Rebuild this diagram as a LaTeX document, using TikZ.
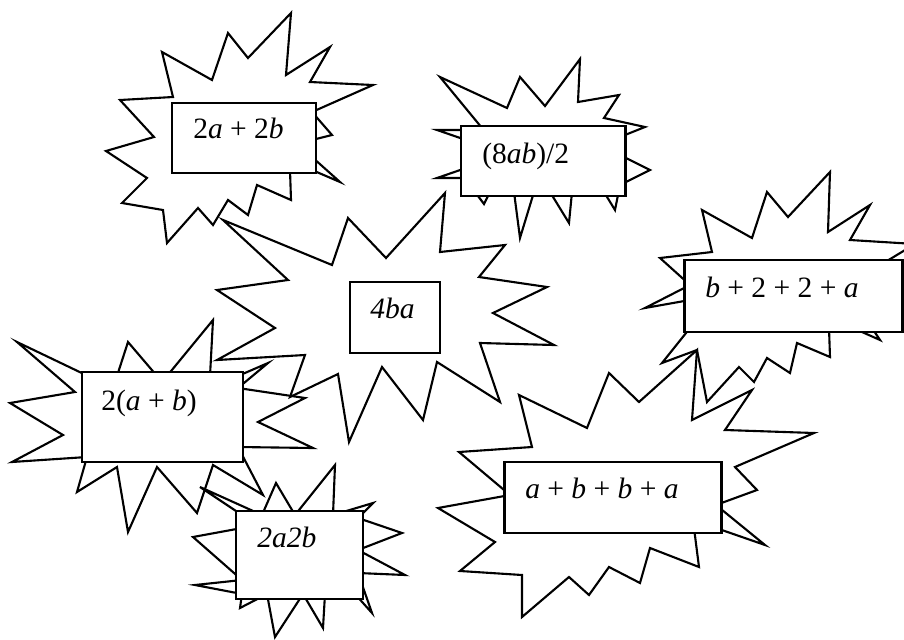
\documentclass[tikz,border=0pt]{standalone}
\usepackage{fontspec}
\setmainfont{Liberation Serif}

\tikzset{
  burst/.style={line width=1.5pt, line join=miter},
  exprbox/.style={draw, line width=2.1pt, fill=white, inner sep=0pt},
  exprtext/.style={inner sep=0pt, anchor=base west, font=\fontsize{21}{25}\selectfont},
}

\begin{document}
\begin{tikzpicture}[x=0.025cm, y=-0.025cm]
  \useasboundingbox (0,0) rectangle (904,640);

  % Burst behind 4ba
  \draw[burst] (223,220) -- (332,265) -- (348,218) -- (386,258) -- (445,193) -- (440,252)
    -- (505,245) -- (479,277) -- (547,287) -- (493,313) -- (554,345) -- (480,343)
    -- (500,402) -- (437,362) -- (423,420) -- (382,367) -- (349,442) -- (338,374)
    -- (290,397) -- (305,355) -- (217,360) -- (275,328) -- (217,290) -- (288,280) -- cycle;

  % Burst behind 2a + 2b
  \draw[burst] (120,100) -- (173,97) -- (162,52) -- (212,80) -- (228,33) -- (248,58)
    -- (291,13) -- (286,75) -- (330,47) -- (310,82) -- (373,85) -- (312,112)
    -- (332,135) -- (312,140) -- (312,157) -- (340,182) -- (312,170) -- (290,170)
    -- (291,200) -- (257,185) -- (248,215) -- (228,200) -- (213,225) -- (198,208)
    -- (167,243) -- (163,210) -- (122,203) -- (147,178) -- (106,151) -- (154,137) -- cycle;

  % Burst behind (8ab)/2
  \draw[burst] (437,130) -- (466,130) -- (482,128) -- (440,77) -- (507,108) -- (520,77)
    -- (545,106) -- (580,59) -- (578,102) -- (619,95) -- (604,118) -- (645,127)
    -- (620,137) -- (620,155) -- (650,170) -- (620,185) -- (615,210) -- (604,192)
    -- (572,192) -- (569,223) -- (550,192) -- (534,192) -- (520,238) -- (514,192)
    -- (490,192) -- (484,204) -- (475,192) -- (466,178) -- (437,178) -- (466,168)
    -- (466,140) -- cycle;

  % Burst behind b + 2 + 2 + a
  \draw[burst] (712,252) -- (702,210) -- (752,238) -- (767,192) -- (788,217) -- (830,172)
    -- (828,232) -- (870,205) -- (850,240) -- (915,244) -- (882,264) -- (898,270)
    -- (898,328) -- (872,328) -- (880,340) -- (853,328) -- (829,328) -- (830,357)
    -- (797,343) -- (790,373) -- (767,358) -- (754,382) -- (739,367) -- (707,402)
    -- (697,350) -- (662,363) -- (690,328) -- (690,300) -- (645,308) -- (690,285)
    -- (660,258) -- cycle;

  % Burst behind a + b + b + a
  \draw[burst] (519,395) -- (587,428) -- (609,373) -- (639,402) -- (697,350) -- (692,420)
    -- (752,390) -- (725,430) -- (814,433) -- (735,467) -- (757,490) -- (716,505)
    -- (765,545) -- (716,528) -- (694,528) -- (699,567) -- (650,548) -- (640,583)
    -- (609,567) -- (589,595) -- (569,577) -- (522,617) -- (522,575) -- (460,571)
    -- (495,542) -- (438,508) -- (510,495) -- (459,452) -- (532,447) -- cycle;

  % Burst behind 2(a + b)
  \draw[burst] (17,342) -- (88,376) -- (117,376) -- (128,342) -- (157,376) -- (167,376)
    -- (213,320) -- (210,376) -- (238,376) -- (268,363) -- (238,388) -- (305,398)
    -- (258,422) -- (313,448) -- (238,447) -- (263,495) -- (213,465) -- (197,513)
    -- (157,467) -- (128,532) -- (117,467) -- (77,492) -- (87,457) -- (12,462)
    -- (63,435) -- (10,403) -- (75,392) -- cycle;

  % Burst behind 2a2b
  \draw[burst] (200,487) -- (262,515) -- (276,483) -- (295,515) -- (335,465) -- (333,515)
    -- (373,503) -- (358,518) -- (402,533) -- (358,550) -- (405,575) -- (358,573)
    -- (372,613) -- (355,594) -- (325,594) -- (323,628) -- (303,594) -- (275,637)
    -- (267,594) -- (240,608) -- (242,594) -- (195,585) -- (242,580) -- (193,537)
    -- (242,528) -- (242,515) -- cycle;

  % Boxes
  \node[exprbox, minimum width=3.6cm, minimum height=1.75cm] (boxA) at (244,138) {};
  \node[exprbox, minimum width=4.1cm, minimum height=1.75cm] (boxB) at (543,161) {};
  \node[exprbox, minimum width=2.25cm, minimum height=1.775cm] (boxC) at (395,317.5) {};
  \node[exprbox, minimum width=5.425cm, minimum height=1.8cm] (boxD) at (793.5,296) {};
  \node[exprbox, minimum width=4.025cm, minimum height=2.25cm] (boxE) at (162.5,417) {};
  \node[exprbox, minimum width=3.175cm, minimum height=2.2cm] (boxF) at (299.5,555) {};
  \node[exprbox, minimum width=5.4cm, minimum height=1.775cm] (boxG) at (613,497.5) {};

  % Expressions
  \node[exprtext] (exprA) at (193,138) {2\textit{a} + 2\textit{b}};
  \node[exprtext] (exprB) at (482,163) {(8\textit{ab})/2};
  \node[exprtext] (exprC) at (370,318) {\textit{4ba}};
  \node[exprtext] (exprD) at (705,297) {\textit{b} + 2 + 2 + \textit{a}};
  \node[exprtext] (exprE) at (101,410) {2(\textit{a} + \textit{b})};
  \node[exprtext] (exprF) at (257,547) {\textit{2a2b}};
  \node[exprtext] (exprG) at (525,498) {\textit{a} + \textit{b} + \textit{b} + \textit{a}};
\end{tikzpicture}
\end{document}
